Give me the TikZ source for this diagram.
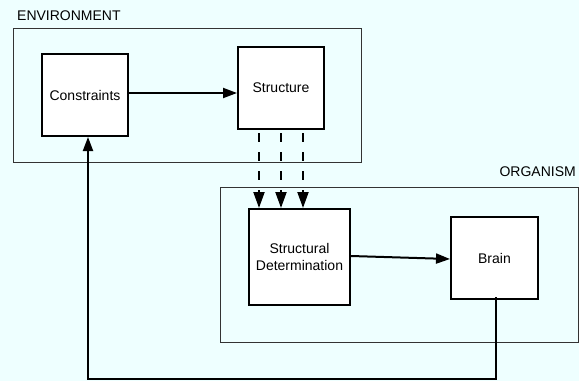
\documentclass[tikz,border=0pt]{standalone}
\usepackage{fontspec}
\setmainfont{Liberation Sans}
\usetikzlibrary{arrows.meta,calc}
\definecolor{bg}{RGB}{238,255,255}
\begin{document}
\begin{tikzpicture}[x=1pt,y=-1pt,
  every node/.style={font=\fontsize{14}{17}\selectfont, inner sep=0pt},
  container/.style={draw=black!80, line width=1pt},
  blockbox/.style={draw=black, fill=white, line width=2pt, align=center},
  conn/.style={draw=black, line width=2pt, -{Triangle[length=14pt,width=10pt]}},
  dashconn/.style={conn, dash pattern=on 9pt off 10pt, dash phase=16pt, -{Triangle[length=16pt,width=11pt]}},
  lbl/.style={inner sep=0pt}]
\useasboundingbox[fill=bg] (0,0) rectangle (579,381);
% containers
\node[container, minimum width=348pt, minimum height=134pt] (env) at (187,95) {};
\node[container, minimum width=358pt, minimum height=155pt] (org) at (399,264.5) {};
\node[lbl, anchor=base west] (envlbl) at (17,20) {ENVIRONMENT};
\node[lbl, anchor=base east] (orglbl) at (576,176) {ORGANISM};
% blocks
\node[blockbox, minimum width=86pt, minimum height=82pt] (cons) at (85,95) {Constraints};
\node[blockbox, minimum width=86pt, minimum height=82pt] (struct) at (281,88) {Structure};
\node[blockbox, minimum width=101pt, minimum height=96pt] (sd) at (299.5,257) {Structural\\Determination};
\node[blockbox, minimum width=87pt, minimum height=82pt] (brain) at (494.5,258) {Brain};
% connectors
\draw[conn] ([yshift=2pt]cons.east) -- ([yshift=2pt]cons.east -| struct.west);
\draw[conn] ([yshift=1pt]sd.east) -- ([yshift=-1pt]brain.west);
\foreach \dx/\nm in {-22/a,0/b,22/c}{
  \draw[dashconn] ([xshift=\dx pt]struct.south) -- ([xshift=\dx pt]struct.south |- sd.north);
}
\coordinate (fb) at (496,379);
\draw[conn] ([xshift=1.5pt,yshift=3pt]brain.south) -- ([xshift=1.5pt]brain.south |- fb) -| ([xshift=3pt]cons.south);
\end{tikzpicture}
\end{document}
